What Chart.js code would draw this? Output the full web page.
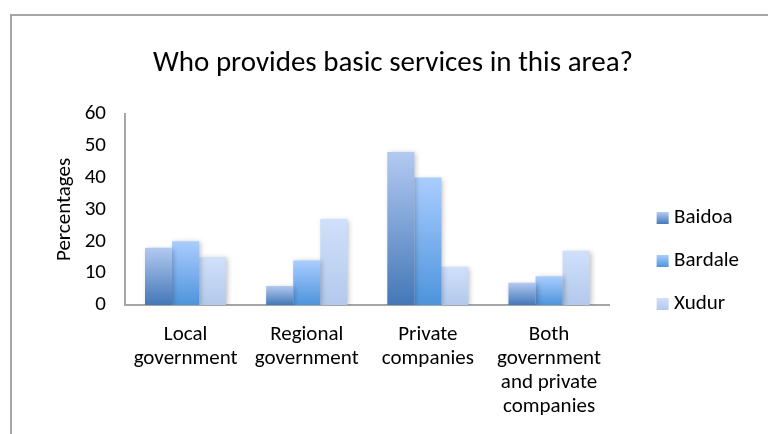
<!DOCTYPE html>
<html>
<head>
<meta charset="utf-8">
<script src="https://cdn.jsdelivr.net/npm/chart.js@4/dist/chart.umd.min.js"></script>
<style>
  html, body { margin: 0; padding: 0; background: #ffffff; }
  body { width: 768px; height: 434px; overflow: hidden; position: relative; }
  #frame {
    position: absolute; left: 10px; top: 14px; width: 780px; height: 440px;
    border-left: 2px solid #a6a6a6; border-top: 2px solid #a6a6a6;
  }
  #wrap { position: absolute; left: 12px; top: 16px; width: 756px; height: 418px; }
</style>
</head>
<body>
<div id="frame"></div>
<div id="wrap"><canvas id="chart"></canvas></div>
<script>
const FONT = "Carlito, Calibri, Lato, 'Open Sans', sans-serif";

const categories = [
  ['Local', 'government'],
  ['Regional', 'government'],
  ['Private', 'companies'],
  ['Both', 'government', 'and private', 'companies']
];
const seriesNames = ['Baidoa', 'Bardale', 'Xudur'];
const baidoa  = [18, 6, 48, 7];
const bardale = [20, 14, 40, 9];
const xudur   = [15, 27, 12, 17];
const yTicks  = [0, 10, 20, 30, 40, 50, 60];

// top / bottom colours of each series' vertical gradient
const shades = [
  { top: '#b2caf1', bottom: '#4477b7' },
  { top: '#aacdff', bottom: '#4d94dc' },
  { top: '#cfe0fa', bottom: '#b3c9ec' }
];

function barGradient(idx) {
  return function (ctx) {
    const chart = ctx.chart;
    const y = chart.scales && chart.scales.y;
    if (!y || ctx.type !== 'data' || !chart.chartArea) return shades[idx].bottom;
    const top = y.getPixelForValue(ctx.raw);
    const base = y.getPixelForValue(0);
    const g = chart.ctx.createLinearGradient(0, top, 0, base);
    g.addColorStop(0, shades[idx].top);
    g.addColorStop(1, shades[idx].bottom);
    return g;
  };
}

// small gradient square used as the legend marker; the square sits
// toward the right of its canvas so it lands just before the label text
const SWATCH = 12;
function legendSwatch(idx) {
  const c = document.createElement('canvas');
  c.width = 44;
  c.height = SWATCH;
  const g2 = c.getContext('2d');
  const g = g2.createLinearGradient(0, 0, 0, SWATCH);
  g.addColorStop(0, shades[idx].top);
  g.addColorStop(1, shades[idx].bottom);
  g2.fillStyle = g;
  g2.fillRect(31, 0, SWATCH, SWATCH);
  return c;
}

// soft shadow behind the bars
const barShadow = {
  id: 'barShadow',
  beforeDatasetsDraw(chart) {
    const c = chart.ctx;
    c.save();
    c.shadowColor = 'rgba(0,0,0,0.25)';
    c.shadowBlur = 5;
    c.shadowOffsetX = 2;
    c.shadowOffsetY = 1;
  },
  afterDatasetsDraw(chart) {
    chart.ctx.restore();
  }
};

const seriesValues = [baidoa, bardale, xudur];
const swatches = seriesNames.map((_, i) => legendSwatch(i));

new Chart(document.getElementById('chart'), {
  type: 'bar',
  data: {
    labels: categories,
    datasets: seriesNames.map((name, i) => ({
      label: name,
      data: seriesValues[i],
      backgroundColor: barGradient(i),
      borderWidth: 0,
      barPercentage: 1.0,
      categoryPercentage: 0.67
    }))
  },
  options: {
    responsive: true,
    maintainAspectRatio: false,
    animation: false,
    layout: { padding: { left: 25, right: 19, top: 0, bottom: 0 } },
    plugins: {
      title: {
        display: true,
        text: 'Who provides basic services in this area?',
        color: '#000000',
        font: { family: FONT, size: 29, weight: 'normal', lineHeight: 1.2 },
        padding: { top: 30, bottom: 33 }
      },
      legend: {
        position: 'right',
        align: 'center',
        title: { display: true, text: '', padding: 29 },
        labels: {
          color: '#000000',
          font: { family: FONT, size: 21 },
          usePointStyle: true,
          pointStyleWidth: 32,
          boxHeight: 12,
          padding: 22,
          generateLabels(chart) {
            return chart.data.datasets.map((ds, i) => ({
              text: ds.label,
              fontColor: '#000000',
              pointStyle: swatches[i],
              fillStyle: shades[i].bottom,
              strokeStyle: shades[i].bottom,
              lineWidth: 0,
              hidden: false,
              datasetIndex: i
            }));
          }
        }
      },
      tooltip: { enabled: false }
    },
    scales: {
      x: {
        afterFit(scale) { scale.height = 129; },
        grid: { display: false, drawTicks: false },
        border: { display: true, color: '#a6a6a6', width: 2 },
        ticks: {
          color: '#000000',
          font: { family: FONT, size: 21, lineHeight: 1.143 },
          padding: 18,
          maxRotation: 0,
          autoSkip: false
        }
      },
      y: {
        min: 0,
        max: 60,
        afterBuildTicks(scale) { scale.ticks = yTicks.map(v => ({ value: v })); },
        afterFit(scale) { scale.width = 88; },
        grid: { display: false, drawTicks: false },
        border: { display: true, color: '#a6a6a6', width: 2 },
        ticks: {
          color: '#000000',
          font: { family: FONT, size: 21 },
          padding: 19
        },
        title: {
          display: true,
          text: 'Percentages',
          color: '#000000',
          font: { family: FONT, size: 21, lineHeight: 1.2 },
          padding: { top: 15, bottom: 0 }
        }
      }
    }
  },
  plugins: [barShadow]
});
</script>
</body>
</html>
